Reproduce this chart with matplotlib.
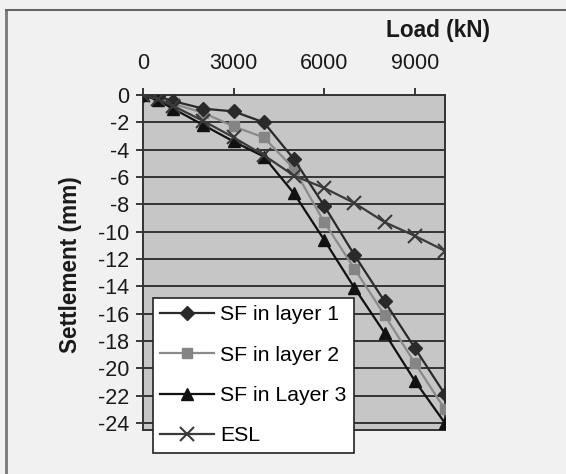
import matplotlib
matplotlib.use("Agg")
import matplotlib.pyplot as plt
from matplotlib.lines import Line2D

plt.rcParams['font.family'] = ['Liberation Sans', 'DejaVu Sans']

load = [0, 500, 1000, 2000, 3000, 4000, 5000, 6000, 7000, 8000, 9000, 10000]
sf_layer1 = [0, -0.1, -0.45, -1.0, -1.2, -2.0, -4.7, -8.1, -11.7, -15.1, -18.5, -21.9]
sf_layer2 = [0, -0.2, -0.65, -1.3, -2.3, -3.1, -5.4, -9.3, -12.7, -16.1, -19.6, -23.0]
sf_layer3 = [0, -0.4, -1.0, -2.2, -3.4, -4.5, -7.2, -10.6, -14.1, -17.4, -20.9, -24.0]
esl = [0, -0.3, -0.8, -1.9, -3.1, -4.4, -5.9, -6.8, -7.9, -9.3, -10.3, -11.4]
labels = ["SF in layer 1", "SF in layer 2", "SF in Layer 3", "ESL"]
xticks = [0, 3000, 6000, 9000]
yticks = list(range(0, -25, -2))

fig = plt.figure(figsize=(5.66, 4.74), dpi=100, facecolor='#f1f1f1')
ax = fig.add_axes([143/566, 1-430/474, (445-143)/566, (430-95)/474])
ax.set_facecolor('#c6c6c6')

ax.plot(load, sf_layer1, color='#2a2a2a', lw=1.6, marker='D', ms=7.5,
        mfc='#2a2a2a', mec='#2a2a2a', label=labels[0], zorder=4)
ax.plot(load, sf_layer2, color='#8a8a8a', lw=1.6, marker='s', ms=7.5,
        mfc='#858585', mec='#858585', label=labels[1], zorder=3)
ax.plot(load, sf_layer3, color='#111111', lw=1.6, marker='^', ms=9,
        mfc='#111111', mec='#111111', label=labels[2], zorder=4)
ax.plot(load, esl, color='#3a3a3a', lw=1.6, marker='x', ms=10, mew=1.5,
        label=labels[3], zorder=4)

ax.set_xlim(0, 10000)
ax.set_ylim(-24.5, 0)
ax.xaxis.tick_top()
ax.xaxis.set_label_position('top')
ax.set_xticks(xticks)
ax.set_yticks(yticks)
ax.set_yticklabels([str(v) for v in yticks])
ax.tick_params(axis='both', labelsize=15.5, colors='#1a1a1a', direction='out',
               length=5, width=1.2)
ax.tick_params(axis='x', pad=10)
ax.tick_params(axis='y', pad=5)
ax.grid(axis='y', color='#333333', lw=1.4)
ax.set_axisbelow(True)
for s in ax.spines.values():
    s.set_color('#333333')
    s.set_linewidth(1.4)

fig.text(438/566, 1-31/474, "Load (kN)", fontsize=16.3, fontweight='bold',
         ha='center', va='center', color='#1a1a1a')
fig.text(71/566, 1-265/474, "Settlement (mm)", fontsize=16.3, fontweight='bold',
         rotation=90, ha='center', va='center', color='#1a1a1a')

leg = ax.legend(loc='upper left', bbox_to_anchor=(153/566, 1-298/474),
                bbox_transform=fig.transFigure, borderaxespad=0,
                fontsize=15.3, handlelength=2.5, labelspacing=1.0,
                fancybox=False, framealpha=1, edgecolor='#222222',
                borderpad=0.35, handletextpad=0.3)
leg.get_frame().set_linewidth(1.2)
leg.set_zorder(10)

# scanned page frame
fig.add_artist(Line2D([6/566, 6/566], [0, 1-10/474], color='#777777', lw=2,
                      transform=fig.transFigure))
fig.add_artist(Line2D([6/566, 1], [1-10/474, 1-10/474], color='#666666', lw=1.5,
                      transform=fig.transFigure))

fig.savefig("out.png", dpi=100, facecolor=fig.get_facecolor())
